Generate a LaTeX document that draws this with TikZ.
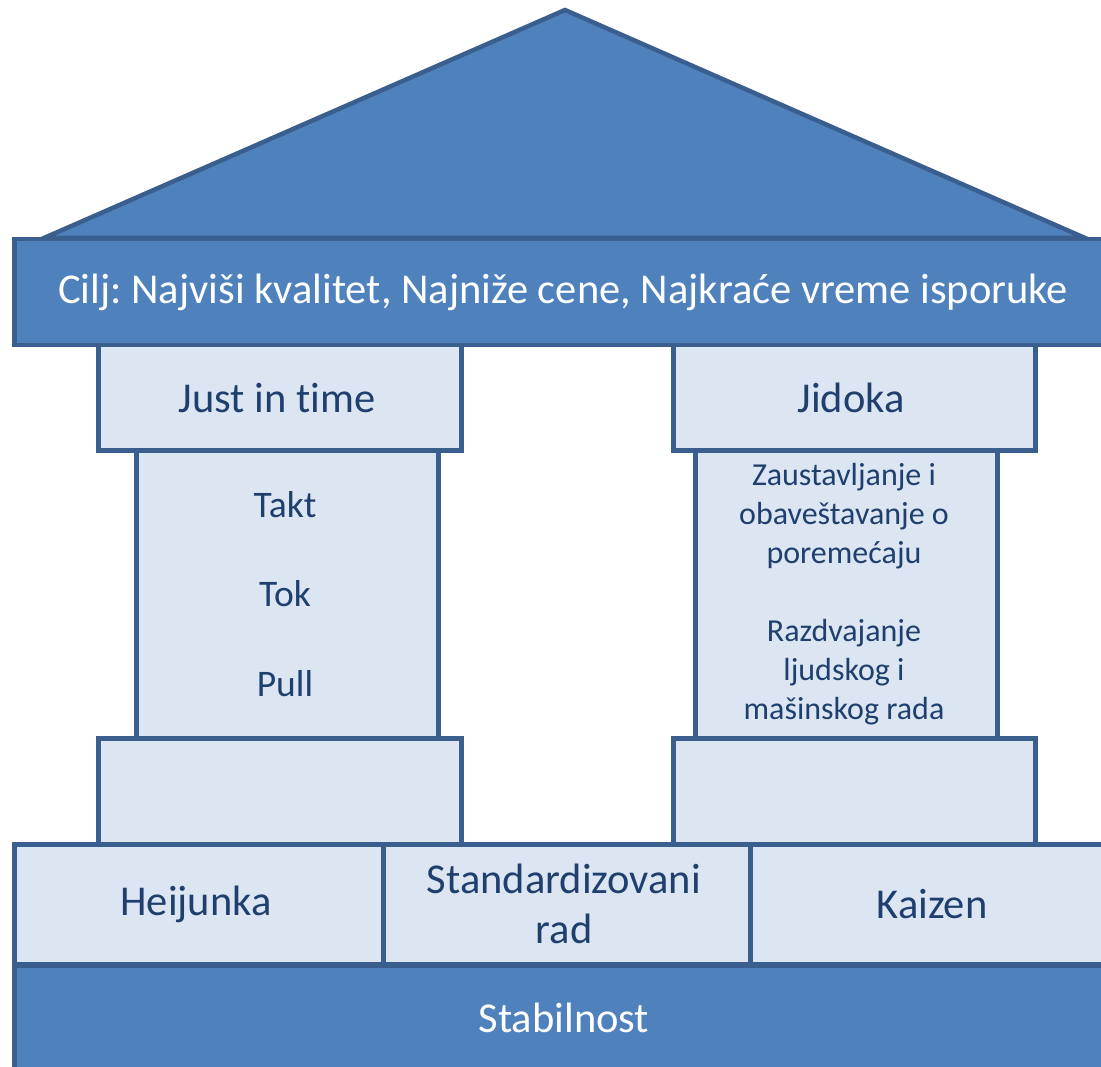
\documentclass[tikz,border=0pt]{standalone}
\usepackage{fontspec}
\setmainfont[Ligatures=CommonOff]{Carlito}
\frenchspacing
\definecolor{darkfill}{HTML}{4F81BD}
\definecolor{edge}{HTML}{3A5F8E}
\definecolor{lightfill}{HTML}{DCE6F2}
\definecolor{txt}{HTML}{1F3F6E}
\tikzset{
  box/.style={draw=edge, line width=4.5pt, inner sep=0pt, anchor=north west},
  darkbox/.style={box, fill=darkfill, text=white},
  lightbox/.style={box, fill=lightfill, text=txt},
  big/.style={font=\fontsize{42.5}{50}\selectfont},
  mid/.style={font=\fontsize{37.5}{44}\selectfont},
  small/.style={font=\fontsize{32}{39}\selectfont, align=center, text=txt},
}
\begin{document}
\begin{tikzpicture}[x=1pt,y=-1pt]
\useasboundingbox (0,0) rectangle (1101,1067);
\clip (0,0) rectangle (1101,1067);
% roof
\draw[draw=edge, fill=darkfill, line width=4.5pt, line join=miter] (44,238) -- (565,10) -- (1085,238) -- cycle;
% goal bar
\node[darkbox, minimum width=1110pt, minimum height=106pt] (goal) at (12,237) {};
\node[big, text=white] (goaltxt) at (563,292) {Cilj: Najviši kvalitet, Najniže cene, Najkraće vreme isporuke};
% left pillar
\node[lightbox, minimum width=363pt, minimum height=105pt] (lcap) at (96,343) {};
\node[lightbox, minimum width=302pt, minimum height=288pt] (lshaft) at (134,448) {};
\node[lightbox, minimum width=363pt, minimum height=106pt] (lbase) at (96,736) {};
\node[big, text=txt] (jit) at (277,398) {Just in time};
\node[mid, text=txt] (takt) at (285,505) {Takt};
\node[mid, text=txt] (tok) at (285,594) {Tok};
\node[mid, text=txt] (pull) at (285,684) {Pull};
% right pillar
\node[lightbox, minimum width=362pt, minimum height=105pt] (rcap) at (671,343) {};
\node[lightbox, minimum width=302pt, minimum height=288pt] (rshaft) at (693,448) {};
\node[lightbox, minimum width=362pt, minimum height=106pt] (rbase) at (671,736) {};
\node[big, text=txt] (jidoka) at (851,398) {Jidoka};
\node[small] (rtxt) at (844,594) {Zaustavljanje i\\obaveštavanje o\\poremećaju\\[39pt]Razdvajanje\\ljudskog i\\mašinskog rada};
% foundation
\node[lightbox, minimum width=369pt, minimum height=120pt] (heij) at (12,842) {};
\node[lightbox, minimum width=367pt, minimum height=120pt] (std) at (381,842) {};
\node[lightbox, minimum width=370pt, minimum height=120pt] (kai) at (748,842) {};
\node[big, text=txt] (heijtxt) at (196,904) {Heijunka};
\node[big, text=txt, align=center] (stdtxt) at (564,904) {Standardizovani\\rad};
\node[big, text=txt] (kaitxt) at (932,904) {Kaizen};
% stability
\node[darkbox, minimum width=1110pt, minimum height=110pt] (stab) at (12,963) {};
\node[big, text=white] (stabtxt) at (564,1018) {Stabilnost};
\end{tikzpicture}
\end{document}
